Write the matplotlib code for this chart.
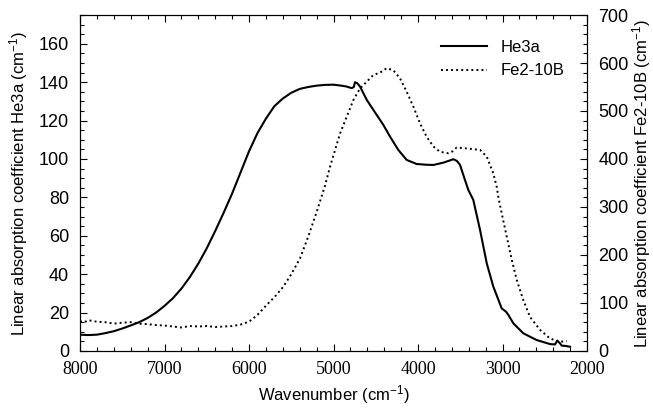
import numpy as np
import matplotlib
matplotlib.use("Agg")
import matplotlib.pyplot as plt
from matplotlib.ticker import MultipleLocator

plt.rcParams['font.family'] = ['Liberation Sans', 'DejaVu Sans']
plt.rcParams['mathtext.fontset'] = 'custom'
plt.rcParams['mathtext.rm'] = 'Liberation Sans'
plt.rcParams['mathtext.it'] = 'Liberation Sans:italic'

# He3a, left axis (cm^-1)
he3a_w = [8000, 7900, 7800, 7700, 7600, 7500, 7400, 7300, 7200, 7100, 7000, 6900, 6800,
          6700, 6600, 6500, 6400, 6300, 6200, 6100, 6000, 5900, 5800, 5700, 5600, 5500,
          5400, 5300, 5200, 5100, 5000, 4923, 4850, 4785, 4760, 4746, 4720, 4686, 4607,
          4529, 4411, 4332, 4233, 4134, 4016, 3900, 3818, 3700, 3620, 3582, 3540, 3503,
          3444, 3405, 3346, 3266, 3187, 3109, 3010, 2960, 2931, 2872, 2754, 2596, 2438,
          2380, 2352, 2320, 2300, 2250, 2201]
he3a_v = [8.5, 8.3, 8.5, 9.3, 10.3, 11.7, 13.3, 15.0, 17.2, 20.0, 23.5, 27.5, 32.5,
          38.5, 45.5, 53.5, 62.5, 72.0, 82.0, 93.0, 104.0, 113.5, 121.0, 127.5, 131.5, 134.5,
          136.5, 137.5, 138.2, 138.6, 138.7, 138.3, 137.8, 136.9, 137.5, 140.0, 139.5, 137.7, 130.8,
          125.6, 117.8, 111.7, 104.7, 99.5, 97.4, 97.0, 96.9, 98.1, 99.3, 99.9, 99.0, 96.9,
          89.0, 83.9, 78.7, 63.0, 45.7, 33.5, 22.2, 20.5, 18.8, 14.4, 9.2, 5.7, 3.6,
          3.4, 5.4, 4.0, 2.8, 2.6, 2.2]

# Fe2-10B, right axis (cm^-1)
fe_w = [8000, 7950, 7900, 7800, 7700, 7600, 7500, 7400, 7300, 7200, 7100, 7000, 6900,
        6800, 6700, 6600, 6500, 6400, 6300, 6200, 6100, 6000, 5900, 5791, 5700, 5594,
        5500, 5396, 5300, 5199, 5100, 5041, 4923, 4844, 4765, 4686, 4607, 4529, 4450,
        4371, 4293, 4213, 4134, 4055, 3976, 3897, 3818, 3740, 3641, 3590, 3542, 3424,
        3266, 3187, 3109, 3069, 3050, 3010, 2950, 2891, 2832, 2754, 2675, 2556, 2438,
        2320, 2241]
fe_v = [62, 60, 64, 61, 60, 57, 59, 60, 57, 56, 54, 53, 51,
        49, 52, 51, 52, 50, 51, 52, 55, 61, 75, 96, 112, 134,
        160, 193, 238, 290, 345, 384, 453, 488, 523, 547, 561, 575, 580,
        589, 585, 568, 540, 509, 474, 446, 426, 415, 412, 416, 424, 422,
        419, 405, 370, 342, 321, 287, 238, 190, 148, 106, 71, 44, 26,
        19, 21]

fig = plt.figure(figsize=(6.53, 4.11), dpi=100)
ax = fig.add_axes([0.1225, 0.146, 0.7765, 0.8175])
ax2 = ax.twinx()

l1, = ax.plot(he3a_w, he3a_v, color='black', lw=1.5, label='He3a')
l2, = ax2.plot(fe_w, fe_v, color='black', lw=1.4, ls=(0, (1, 1.6)), label='Fe2-10B')

ax.set_xlim(8000, 2000)
ax.set_ylim(0, 175)
ax2.set_ylim(0, 700)

ax.xaxis.set_major_locator(MultipleLocator(1000))
ax.xaxis.set_minor_locator(MultipleLocator(200))
ax.yaxis.set_major_locator(MultipleLocator(20))
ax.yaxis.set_minor_locator(MultipleLocator(5))
ax2.yaxis.set_major_locator(MultipleLocator(100))
ax2.yaxis.set_minor_locator(MultipleLocator(20))

ax.tick_params(axis='x', which='both', direction='in', top=True, labelsize=13, pad=7)
ax.tick_params(axis='y', which='both', direction='in', right=False, labelsize=13, pad=8)
ax2.tick_params(axis='y', which='both', direction='in', labelsize=13, pad=8)
for a in (ax, ax2):
    a.tick_params(which='major', length=5, width=0.8)
    a.tick_params(which='minor', length=3, width=0.8)
for t in ax.get_xticklabels():
    t.set_family('Liberation Serif')

ax.set_xlabel(r'Wavenumber (cm$^{-1}$)', fontsize=12)
ax.set_ylabel(r'Linear absorption coefficient He3a (cm$^{-1}$)', fontsize=12, labelpad=6)
ax2.set_ylabel(r'Linear absorption coefficient Fe2-10B (cm$^{-1}$)', fontsize=12, labelpad=1)

ax.legend(handles=[l1, l2], loc='upper right', frameon=False, fontsize=12,
          handlelength=2.8, bbox_to_anchor=(0.985, 0.97))

fig.savefig('out.png', dpi=100)
